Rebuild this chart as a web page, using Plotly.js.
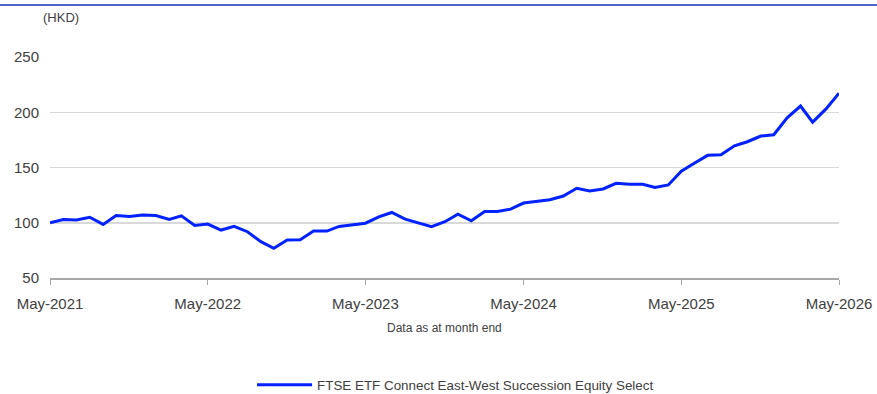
<!DOCTYPE html>
<html>
<head>
<meta charset="utf-8">
<script src="https://cdn.plot.ly/plotly-3.0.1.min.js"></script>
<style>
  html, body { margin: 0; padding: 0; background: #fff; }
  #chart { width: 877px; height: 394px; }
</style>
</head>
<body>
<div id="chart"></div>
<script>
const months = [
  '2021-05-01','2021-06-01','2021-07-01','2021-08-01','2021-09-01','2021-10-01','2021-11-01','2021-12-01',
  '2022-01-01','2022-02-01','2022-03-01','2022-04-01','2022-05-01','2022-06-01','2022-07-01','2022-08-01',
  '2022-09-01','2022-10-01','2022-11-01','2022-12-01','2023-01-01','2023-02-01','2023-03-01','2023-04-01',
  '2023-05-01','2023-06-01','2023-07-01','2023-08-01','2023-09-01','2023-10-01','2023-11-01','2023-12-01',
  '2024-01-01','2024-02-01','2024-03-01','2024-04-01','2024-05-01','2024-06-01','2024-07-01','2024-08-01',
  '2024-09-01','2024-10-01','2024-11-01','2024-12-01','2025-01-01','2025-02-01','2025-03-01','2025-04-01',
  '2025-05-01','2025-06-01','2025-07-01','2025-08-01','2025-09-01','2025-10-01','2025-11-01','2025-12-01',
  '2026-01-01','2026-02-01','2026-03-01','2026-04-01','2026-05-01'
];
const indexValues = [
  100, 103, 102.5, 105, 98.5, 106.5, 105.7, 107, 106.5, 103, 106.3, 97.6,
  98.8, 93.4, 96.7, 91.9, 82.9, 76.9, 84.4, 84.7, 92.5, 92.5, 96.7, 98.5,
  99.6, 105.4, 109.3, 103.3, 100, 96.4, 100.9, 107.8, 101.8, 110.2, 110.2, 112.3,
  117.8, 119.4, 120.9, 124.2, 131.2, 128.7, 130.6, 135.7, 134.8, 134.8, 132, 134.2,
  146.6, 154, 161, 161.5, 169.6, 173.3, 178.5, 179.6, 195, 205.6, 191, 203,
  217.3
];
const tickDates = ['2021-05-01','2022-05-01','2023-05-01','2024-05-01','2025-05-01','2026-05-01'];
const tickLabels = ['May-2021','May-2022','May-2023','May-2024','May-2025','May-2026'];
const yTicks = [50, 100, 150, 200, 250];
const seriesName = 'FTSE ETF Connect East-West Succession Equity Select';

const trace = {
  x: months,
  y: indexValues,
  type: 'scatter',
  mode: 'lines',
  name: seriesName,
  line: { color: '#0022ff', width: 3 },
  hoverinfo: 'skip'
};

const layout = {
  width: 877,
  height: 394,
  margin: { l: 50, r: 38, t: 57, b: 116, autoexpand: false },
  paper_bgcolor: '#ffffff',
  plot_bgcolor: '#ffffff',
  font: { family: 'Liberation Sans, Arial, sans-serif', color: '#404040', size: 15 },
  showlegend: true,
  legend: {
    orientation: 'h',
    x: 0.514, xanchor: 'center',
    y: -0.484, yanchor: 'middle',
    font: { size: 13.4, color: '#404040' },
    itemwidth: 55
  },
  xaxis: {
    type: 'date',
    range: ['2021-05-01', '2026-05-01'],
    tickvals: tickDates,
    ticktext: tickLabels,
    ticks: 'outside',
    ticklen: 5,
    tickcolor: '#a6a6a6',
    showline: true,
    linecolor: '#a6a6a6',
    linewidth: 1.5,
    showgrid: false,
    zeroline: false,
    tickfont: { size: 15, color: '#404040' },
    ticklabelstandoff: 6
  },
  yaxis: {
    range: [50, 250],
    tickvals: yTicks,
    ticks: '',
    showline: false,
    showgrid: true,
    gridcolor: '#d9d9d9',
    gridwidth: 1.5,
    zeroline: false,
    tickfont: { size: 15, color: '#404040' },
    ticklabelstandoff: 10
  },
  annotations: [
    {
      text: '(HKD)', xref: 'paper', yref: 'paper',
      x: -0.012, y: 1.18, xanchor: 'left', yanchor: 'middle',
      showarrow: false, font: { size: 13, color: '#404040' }
    },
    {
      text: 'Data as at month end', xref: 'paper', yref: 'paper',
      x: 0.5006, y: -0.226, xanchor: 'center', yanchor: 'middle',
      showarrow: false, font: { size: 12, color: '#404040' }
    }
  ],
  shapes: [
    {
      type: 'line', xref: 'paper', yref: 'paper',
      x0: -0.0634, x1: 1.0482, y0: 1.2353, y1: 1.2353,
      line: { color: '#1a2fb8', width: 1.5 }
    }
  ]
};

Plotly.newPlot('chart', [trace], layout, { displayModeBar: false, staticPlot: true });
</script>
</body>
</html>
